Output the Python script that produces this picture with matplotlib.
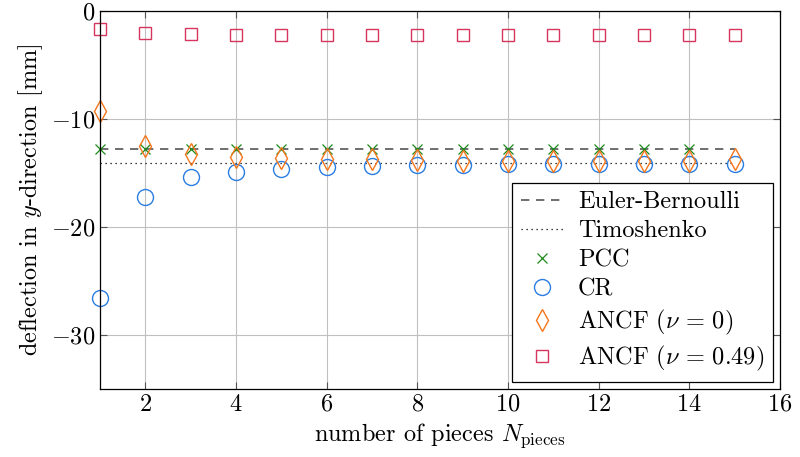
import matplotlib
matplotlib.use("Agg")
import matplotlib.pyplot as plt
import numpy as np

plt.rcParams['font.family'] = 'serif'
plt.rcParams['font.serif'] = ['cmr10']
plt.rcParams['mathtext.fontset'] = 'cm'
plt.rcParams['axes.formatter.use_mathtext'] = True
plt.rcParams['axes.unicode_minus'] = True

# Data
n_ref = [1, 15]
euler_bernoulli = [-12.75, -12.75]
timoshenko = [-14.1, -14.1]

n_pcc = list(range(1, 15))
pcc = [-12.75] * 14

n_all = list(range(1, 16))
cr = [-26.55, -17.2, -15.4, -14.9, -14.65, -14.47, -14.38, -14.28, -14.25,
      -14.2, -14.2, -14.2, -14.2, -14.2, -14.2]
ancf0 = [-9.3, -12.5, -13.2, -13.5, -13.6, -13.7, -13.75, -13.8, -13.85,
         -13.85, -13.9, -13.9, -13.9, -13.9, -13.75]
ancf049 = [-1.7, -2.04, -2.13, -2.2, -2.2, -2.2, -2.2, -2.2, -2.22,
           -2.22, -2.25, -2.22, -2.22, -2.22, -2.22]

xticks = [2, 4, 6, 8, 10, 12, 14, 16]
yticks = [0, -10, -20, -30]

FS = 17.5

fig = plt.figure(figsize=(8.0, 4.57), dpi=100)
ax = fig.add_axes([0.125, 0.149, 0.85, 0.827])

ax.plot(n_ref, euler_bernoulli, linestyle=(0, (5, 4)), color='#555555', lw=1.2,
        label='Euler-Bernoulli')
ax.plot(n_ref, timoshenko, linestyle=(0, (1, 3)), color='black', lw=0.9,
        label='Timoshenko')
ax.plot(n_pcc, pcc, linestyle='none', marker='x', color='#1a8a1a', ms=7,
        mew=0.9, label='PCC', clip_on=False)
ax.plot(n_all, cr, linestyle='none', marker='o', mfc='none', mec='#2a7de1',
        ms=11.5, mew=1.0, label='CR', clip_on=False)
ax.plot(n_all, ancf0, linestyle='none', marker='d', mfc='none', mec='#f5761a',
        ms=11, mew=1.0, label=r'ANCF ($\nu\,=\,0$)', clip_on=False)
ax.plot(n_all, ancf049, linestyle='none', marker='s', mfc='none', mec='#d8355e',
        ms=9, mew=1.0, label=r'ANCF ($\nu\,=\,0.49$)', clip_on=False)

ax.set_xlim(1, 16)
ax.set_ylim(-35, 0)
ax.set_xticks(xticks)
ax.set_yticks(yticks)
ax.grid(True, color='#c0c0c0', lw=0.8)
ax.set_axisbelow(True)
ax.tick_params(direction='in', top=True, right=True, labelsize=FS, length=5,
               color='#555555')
for s in ax.spines.values():
    s.set_linewidth(0.9)

ax.set_xlabel(r'number of pieces $N_{\mathrm{pieces}}$', fontsize=FS)
ax.set_ylabel(r'deflection in $y$-direction [mm]', fontsize=FS)

leg = ax.legend(loc='lower right', fontsize=FS, fancybox=False,
                edgecolor='black', framealpha=1, borderpad=0.35,
                handlelength=1.75, labelspacing=0.29, handletextpad=0.6,
                bbox_to_anchor=(1.0, 0.0), borderaxespad=0.3)
leg.get_frame().set_linewidth(0.9)

fig.savefig('out.png', dpi=100)
